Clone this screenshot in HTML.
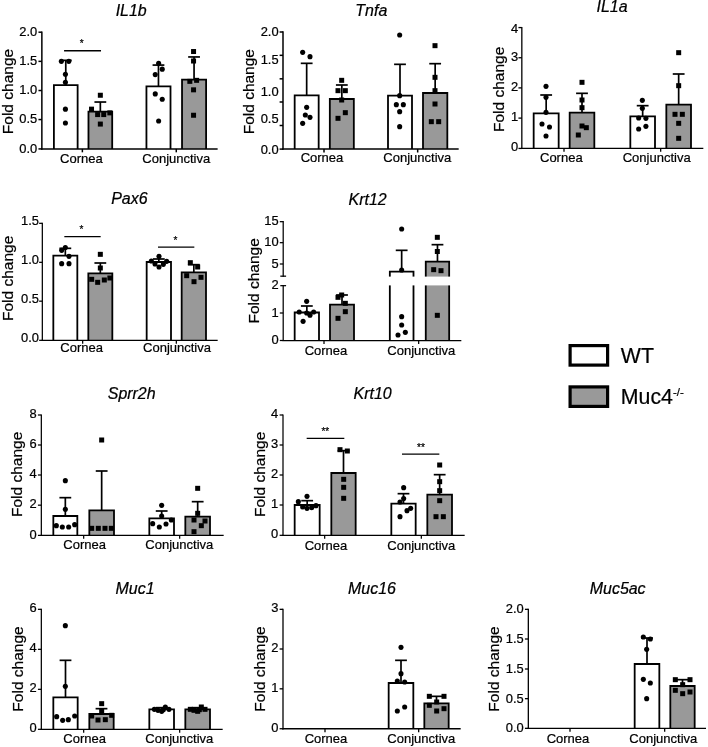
<!DOCTYPE html>
<html><head><meta charset="utf-8"><title>Figure</title>
<style>
html,body{margin:0;padding:0;background:#fff;}
svg{display:block;will-change:transform;}
svg text{font-family:"Liberation Sans",Arial,Helvetica,sans-serif;fill:#000000;stroke:#000000;stroke-width:0.22px;}
</style></head><body>
<svg width="708" height="747" viewBox="0 0 708 747">
<rect width="708" height="747" fill="#ffffff"/>
<line x1="65.77" y1="60.34" x2="65.77" y2="85.08" stroke="#000000" stroke-width="1.7"/>
<line x1="59.87" y1="60.34" x2="71.67" y2="60.34" stroke="#000000" stroke-width="1.7"/>
<rect x="53.9" y="85.08" width="23.73" height="63.84" fill="#ffffff"/>
<polyline points="53.9,148.92 53.9,85.08 77.63,85.08 77.63,148.92" fill="none" stroke="#000000" stroke-width="1.8" stroke-linejoin="miter"/>
<circle cx="61.36" cy="61.36" r="2.55" fill="#000000"/>
<circle cx="68.81" cy="61.36" r="2.55" fill="#000000"/>
<circle cx="65.42" cy="74.24" r="2.55" fill="#000000"/>
<circle cx="65.42" cy="82.37" r="2.55" fill="#000000"/>
<circle cx="65.42" cy="109.15" r="2.55" fill="#000000"/>
<circle cx="65.42" cy="123.05" r="2.55" fill="#000000"/>
<line x1="100.34" y1="102.03" x2="100.34" y2="111.53" stroke="#000000" stroke-width="1.7"/>
<line x1="94.44" y1="102.03" x2="106.24" y2="102.03" stroke="#000000" stroke-width="1.7"/>
<rect x="88.47" y="111.53" width="23.73" height="37.39" fill="#999999"/>
<polyline points="88.47,148.92 88.47,111.53 112.2,111.53 112.2,148.92" fill="none" stroke="#000000" stroke-width="1.8" stroke-linejoin="miter"/>
<rect x="97.84" y="92.75" width="5.0" height="5.0" fill="#000000"/>
<rect x="89.03" y="106.65" width="5.0" height="5.0" fill="#000000"/>
<rect x="95.13" y="112.08" width="5.0" height="5.0" fill="#000000"/>
<rect x="101.23" y="112.08" width="5.0" height="5.0" fill="#000000"/>
<rect x="107.33" y="110.38" width="5.0" height="5.0" fill="#000000"/>
<rect x="97.84" y="121.57" width="5.0" height="5.0" fill="#000000"/>
<line x1="158.47" y1="65.08" x2="158.47" y2="86.44" stroke="#000000" stroke-width="1.7"/>
<line x1="152.57" y1="65.08" x2="164.37" y2="65.08" stroke="#000000" stroke-width="1.7"/>
<rect x="146.44" y="86.44" width="24.07" height="62.48" fill="#ffffff"/>
<polyline points="146.44,148.92 146.44,86.44 170.51,86.44 170.51,148.92" fill="none" stroke="#000000" stroke-width="1.8" stroke-linejoin="miter"/>
<circle cx="158.64" cy="63.22" r="2.55" fill="#000000"/>
<circle cx="162.24" cy="69.15" r="2.55" fill="#000000"/>
<circle cx="155.25" cy="74.58" r="2.55" fill="#000000"/>
<circle cx="155.25" cy="93.9" r="2.55" fill="#000000"/>
<circle cx="162.24" cy="99.32" r="2.55" fill="#000000"/>
<circle cx="158.64" cy="121.02" r="2.55" fill="#000000"/>
<line x1="194.06" y1="56.95" x2="194.06" y2="79.66" stroke="#000000" stroke-width="1.7"/>
<line x1="188.16" y1="56.95" x2="199.96" y2="56.95" stroke="#000000" stroke-width="1.7"/>
<rect x="182.03" y="79.66" width="24.07" height="69.26" fill="#999999"/>
<polyline points="182.03,148.92 182.03,79.66 206.1,79.66 206.1,148.92" fill="none" stroke="#000000" stroke-width="1.8" stroke-linejoin="miter"/>
<rect x="191.06" y="49.03" width="5.0" height="5.0" fill="#000000"/>
<rect x="191.06" y="58.52" width="5.0" height="5.0" fill="#000000"/>
<rect x="194.11" y="77.84" width="5.0" height="5.0" fill="#000000"/>
<rect x="187.33" y="78.86" width="5.0" height="5.0" fill="#000000"/>
<rect x="191.06" y="87.33" width="5.0" height="5.0" fill="#000000"/>
<rect x="191.06" y="112.75" width="5.0" height="5.0" fill="#000000"/>
<line x1="41.86" y1="31.45" x2="41.86" y2="149.67" stroke="#000000" stroke-width="1.5"/>
<line x1="41.11" y1="148.92" x2="217.63" y2="148.92" stroke="#000000" stroke-width="1.5"/>
<line x1="38.46" y1="32.2" x2="41.86" y2="32.2" stroke="#000000" stroke-width="1.5"/>
<line x1="38.46" y1="61.36" x2="41.86" y2="61.36" stroke="#000000" stroke-width="1.5"/>
<line x1="38.46" y1="90.51" x2="41.86" y2="90.51" stroke="#000000" stroke-width="1.5"/>
<line x1="38.46" y1="119.56" x2="41.86" y2="119.56" stroke="#000000" stroke-width="1.5"/>
<line x1="38.46" y1="148.92" x2="41.86" y2="148.92" stroke="#000000" stroke-width="1.5"/>
<text x="37.26" y="35.9" font-size="12.9" text-anchor="end"  >2.0</text>
<text x="37.26" y="65.06" font-size="12.9" text-anchor="end"  >1.5</text>
<text x="37.26" y="94.21" font-size="12.9" text-anchor="end"  >1.0</text>
<text x="37.26" y="123.26" font-size="12.9" text-anchor="end"  >0.5</text>
<text x="37.26" y="152.62" font-size="12.9" text-anchor="end"  >0.0</text>
<line x1="82.37" y1="148.92" x2="82.37" y2="152.32" stroke="#000000" stroke-width="1.5"/>
<line x1="176.27" y1="148.92" x2="176.27" y2="152.32" stroke="#000000" stroke-width="1.5"/>
<text x="81.36" y="162.54" font-size="13" text-anchor="middle"  >Cornea</text>
<text x="176.27" y="162.54" font-size="13" text-anchor="middle"  >Conjunctiva</text>
<text transform="translate(131.19,16.44) scale(1.03,1.09)" font-size="15.5" text-anchor="middle" font-style="italic">IL1b</text>
<text transform="translate(12.54,91.53) rotate(-90)" font-size="15.5" text-anchor="middle">Fold change</text>
<line x1="64.07" y1="50.85" x2="101.02" y2="50.85" stroke="#000000" stroke-width="1.5"/>
<text x="81.69" y="47.12" font-size="10" text-anchor="middle"  >*</text>
<line x1="306.67" y1="63.33" x2="306.67" y2="95.33" stroke="#000000" stroke-width="1.7"/>
<line x1="300.77" y1="63.33" x2="312.57" y2="63.33" stroke="#000000" stroke-width="1.7"/>
<rect x="294.67" y="95.33" width="24.0" height="53.77" fill="#ffffff"/>
<polyline points="294.67,149.1 294.67,95.33 318.67,95.33 318.67,149.1" fill="none" stroke="#000000" stroke-width="1.8" stroke-linejoin="miter"/>
<circle cx="302.67" cy="52.33" r="2.55" fill="#000000"/>
<circle cx="310.0" cy="56.67" r="2.55" fill="#000000"/>
<circle cx="306.67" cy="107.33" r="2.55" fill="#000000"/>
<circle cx="305.33" cy="115.0" r="2.55" fill="#000000"/>
<circle cx="310.0" cy="117.33" r="2.55" fill="#000000"/>
<circle cx="302.67" cy="123.33" r="2.55" fill="#000000"/>
<line x1="341.83" y1="85.0" x2="341.83" y2="99.0" stroke="#000000" stroke-width="1.7"/>
<line x1="335.93" y1="85.0" x2="347.73" y2="85.0" stroke="#000000" stroke-width="1.7"/>
<rect x="329.83" y="99.0" width="24.0" height="50.1" fill="#999999"/>
<polyline points="329.83,149.1 329.83,99.0 353.83,99.0 353.83,149.1" fill="none" stroke="#000000" stroke-width="1.8" stroke-linejoin="miter"/>
<rect x="339.17" y="77.83" width="5.0" height="5.0" fill="#000000"/>
<rect x="335.5" y="88.17" width="5.0" height="5.0" fill="#000000"/>
<rect x="342.83" y="88.17" width="5.0" height="5.0" fill="#000000"/>
<rect x="339.17" y="97.5" width="5.0" height="5.0" fill="#000000"/>
<rect x="342.83" y="110.17" width="5.0" height="5.0" fill="#000000"/>
<rect x="335.5" y="115.83" width="5.0" height="5.0" fill="#000000"/>
<line x1="400.0" y1="64.33" x2="400.0" y2="95.67" stroke="#000000" stroke-width="1.7"/>
<line x1="394.1" y1="64.33" x2="405.9" y2="64.33" stroke="#000000" stroke-width="1.7"/>
<rect x="388.0" y="95.67" width="24.0" height="53.43" fill="#ffffff"/>
<polyline points="388.0,149.1 388.0,95.67 412.0,95.67 412.0,149.1" fill="none" stroke="#000000" stroke-width="1.8" stroke-linejoin="miter"/>
<circle cx="399.67" cy="35.0" r="2.55" fill="#000000"/>
<circle cx="399.67" cy="95.67" r="2.55" fill="#000000"/>
<circle cx="396.33" cy="104.67" r="2.55" fill="#000000"/>
<circle cx="403.33" cy="104.67" r="2.55" fill="#000000"/>
<circle cx="399.67" cy="111.67" r="2.55" fill="#000000"/>
<circle cx="399.67" cy="126.67" r="2.55" fill="#000000"/>
<line x1="435.16" y1="63.67" x2="435.16" y2="93.0" stroke="#000000" stroke-width="1.7"/>
<line x1="429.26" y1="63.67" x2="441.06" y2="63.67" stroke="#000000" stroke-width="1.7"/>
<rect x="423.0" y="93.0" width="24.33" height="56.1" fill="#999999"/>
<polyline points="423.0,149.1 423.0,93.0 447.33,93.0 447.33,149.1" fill="none" stroke="#000000" stroke-width="1.8" stroke-linejoin="miter"/>
<rect x="432.5" y="43.17" width="5.0" height="5.0" fill="#000000"/>
<rect x="432.5" y="74.83" width="5.0" height="5.0" fill="#000000"/>
<rect x="432.5" y="88.17" width="5.0" height="5.0" fill="#000000"/>
<rect x="432.5" y="101.5" width="5.0" height="5.0" fill="#000000"/>
<rect x="428.83" y="119.17" width="5.0" height="5.0" fill="#000000"/>
<rect x="436.17" y="119.17" width="5.0" height="5.0" fill="#000000"/>
<line x1="283.0" y1="31.25" x2="283.0" y2="149.85" stroke="#000000" stroke-width="1.5"/>
<line x1="282.25" y1="149.1" x2="458.67" y2="149.1" stroke="#000000" stroke-width="1.5"/>
<line x1="279.6" y1="32.0" x2="283.0" y2="32.0" stroke="#000000" stroke-width="1.5"/>
<line x1="279.6" y1="55.33" x2="283.0" y2="55.33" stroke="#000000" stroke-width="1.5"/>
<line x1="279.6" y1="78.83" x2="283.0" y2="78.83" stroke="#000000" stroke-width="1.5"/>
<line x1="279.6" y1="102.0" x2="283.0" y2="102.0" stroke="#000000" stroke-width="1.5"/>
<line x1="279.6" y1="125.5" x2="283.0" y2="125.5" stroke="#000000" stroke-width="1.5"/>
<line x1="279.6" y1="149.1" x2="283.0" y2="149.1" stroke="#000000" stroke-width="1.5"/>
<text x="278.6" y="36.17" font-size="12.9" text-anchor="end"  >2.0</text>
<text x="278.6" y="63.83" font-size="12.9" text-anchor="end"  >1.5</text>
<text x="278.6" y="95.83" font-size="12.9" text-anchor="end"  >1.0</text>
<text x="278.6" y="123.17" font-size="12.9" text-anchor="end"  >0.5</text>
<text x="278.6" y="153.6" font-size="12.9" text-anchor="end"  >0.0</text>
<line x1="324.0" y1="149.1" x2="324.0" y2="152.5" stroke="#000000" stroke-width="1.5"/>
<line x1="417.67" y1="149.1" x2="417.67" y2="152.5" stroke="#000000" stroke-width="1.5"/>
<text x="322.0" y="162.0" font-size="13" text-anchor="middle"  >Cornea</text>
<text x="417.33" y="162.0" font-size="13" text-anchor="middle"  >Conjunctiva</text>
<text transform="translate(371.33,16.33) scale(1.03,1.09)" font-size="15.5" text-anchor="middle" font-style="italic">Tnfa</text>
<text transform="translate(253.67,91.67) rotate(-90)" font-size="15.5" text-anchor="middle">Fold change</text>
<line x1="546.17" y1="95.0" x2="546.17" y2="113.33" stroke="#000000" stroke-width="1.7"/>
<line x1="540.27" y1="95.0" x2="552.07" y2="95.0" stroke="#000000" stroke-width="1.7"/>
<rect x="533.67" y="113.33" width="25.0" height="35.1" fill="#ffffff"/>
<polyline points="533.67,148.43 533.67,113.33 558.67,113.33 558.67,148.43" fill="none" stroke="#000000" stroke-width="1.8" stroke-linejoin="miter"/>
<circle cx="546.0" cy="86.33" r="2.55" fill="#000000"/>
<circle cx="546.0" cy="97.33" r="2.55" fill="#000000"/>
<circle cx="546.0" cy="112.33" r="2.55" fill="#000000"/>
<circle cx="542.0" cy="124.0" r="2.55" fill="#000000"/>
<circle cx="549.5" cy="127.0" r="2.55" fill="#000000"/>
<circle cx="546.0" cy="136.0" r="2.55" fill="#000000"/>
<line x1="582.0" y1="93.33" x2="582.0" y2="112.67" stroke="#000000" stroke-width="1.7"/>
<line x1="576.1" y1="93.33" x2="587.9" y2="93.33" stroke="#000000" stroke-width="1.7"/>
<rect x="569.67" y="112.67" width="24.66" height="35.76" fill="#999999"/>
<polyline points="569.67,148.43 569.67,112.67 594.33,112.67 594.33,148.43" fill="none" stroke="#000000" stroke-width="1.8" stroke-linejoin="miter"/>
<rect x="579.5" y="79.83" width="5.0" height="5.0" fill="#000000"/>
<rect x="579.5" y="97.5" width="5.0" height="5.0" fill="#000000"/>
<rect x="579.5" y="105.17" width="5.0" height="5.0" fill="#000000"/>
<rect x="579.5" y="123.5" width="5.0" height="5.0" fill="#000000"/>
<rect x="583.83" y="125.17" width="5.0" height="5.0" fill="#000000"/>
<rect x="575.83" y="132.5" width="5.0" height="5.0" fill="#000000"/>
<line x1="642.66" y1="105.67" x2="642.66" y2="116.33" stroke="#000000" stroke-width="1.7"/>
<line x1="636.76" y1="105.67" x2="648.56" y2="105.67" stroke="#000000" stroke-width="1.7"/>
<rect x="630.33" y="116.33" width="24.67" height="32.1" fill="#ffffff"/>
<polyline points="630.33,148.43 630.33,116.33 655.0,116.33 655.0,148.43" fill="none" stroke="#000000" stroke-width="1.8" stroke-linejoin="miter"/>
<circle cx="642.33" cy="100.33" r="2.55" fill="#000000"/>
<circle cx="642.33" cy="108.33" r="2.55" fill="#000000"/>
<circle cx="638.67" cy="118.0" r="2.55" fill="#000000"/>
<circle cx="645.9" cy="118.33" r="2.55" fill="#000000"/>
<circle cx="638.67" cy="129.0" r="2.55" fill="#000000"/>
<circle cx="645.9" cy="126.33" r="2.55" fill="#000000"/>
<line x1="678.66" y1="74.0" x2="678.66" y2="104.67" stroke="#000000" stroke-width="1.7"/>
<line x1="672.76" y1="74.0" x2="684.56" y2="74.0" stroke="#000000" stroke-width="1.7"/>
<rect x="666.33" y="104.67" width="24.67" height="43.76" fill="#999999"/>
<polyline points="666.33,148.43 666.33,104.67 691.0,104.67 691.0,148.43" fill="none" stroke="#000000" stroke-width="1.8" stroke-linejoin="miter"/>
<rect x="676.17" y="50.17" width="5.0" height="5.0" fill="#000000"/>
<rect x="676.17" y="83.17" width="5.0" height="5.0" fill="#000000"/>
<rect x="672.5" y="111.83" width="5.0" height="5.0" fill="#000000"/>
<rect x="679.83" y="111.83" width="5.0" height="5.0" fill="#000000"/>
<rect x="676.17" y="120.83" width="5.0" height="5.0" fill="#000000"/>
<rect x="676.17" y="135.83" width="5.0" height="5.0" fill="#000000"/>
<line x1="521.83" y1="26.92" x2="521.83" y2="149.08" stroke="#000000" stroke-width="1.3"/>
<line x1="521.18" y1="148.43" x2="703.33" y2="148.43" stroke="#000000" stroke-width="1.3"/>
<line x1="518.43" y1="27.57" x2="521.83" y2="27.57" stroke="#000000" stroke-width="1.3"/>
<line x1="518.43" y1="57.73" x2="521.83" y2="57.73" stroke="#000000" stroke-width="1.3"/>
<line x1="518.43" y1="87.9" x2="521.83" y2="87.9" stroke="#000000" stroke-width="1.3"/>
<line x1="518.43" y1="118.1" x2="521.83" y2="118.1" stroke="#000000" stroke-width="1.3"/>
<line x1="518.43" y1="148.43" x2="521.83" y2="148.43" stroke="#000000" stroke-width="1.3"/>
<text x="518.13" y="32.73" font-size="12.9" text-anchor="end"  >4</text>
<text x="518.13" y="61.2" font-size="12.9" text-anchor="end"  >3</text>
<text x="518.13" y="90.93" font-size="12.9" text-anchor="end"  >2</text>
<text x="518.13" y="120.67" font-size="12.9" text-anchor="end"  >1</text>
<text x="518.13" y="150.83" font-size="12.9" text-anchor="end"  >0</text>
<line x1="564.0" y1="148.43" x2="564.0" y2="151.83" stroke="#000000" stroke-width="1.3"/>
<line x1="660.67" y1="148.43" x2="660.67" y2="151.83" stroke="#000000" stroke-width="1.3"/>
<text x="561.33" y="161.5" font-size="13" text-anchor="middle"  >Cornea</text>
<text x="656.67" y="161.5" font-size="13" text-anchor="middle"  >Conjunctiva</text>
<text transform="translate(612.0,11.67) scale(1.03,1.09)" font-size="15.5" text-anchor="middle" font-style="italic">IL1a</text>
<text transform="translate(503.67,89.33) rotate(-90)" font-size="15.5" text-anchor="middle">Fold change</text>
<line x1="65.33" y1="248.33" x2="65.33" y2="255.67" stroke="#000000" stroke-width="1.7"/>
<line x1="59.43" y1="248.33" x2="71.23" y2="248.33" stroke="#000000" stroke-width="1.7"/>
<rect x="53.33" y="255.67" width="24.0" height="84.66" fill="#ffffff"/>
<polyline points="53.33,340.33 53.33,255.67 77.33,255.67 77.33,340.33" fill="none" stroke="#000000" stroke-width="1.8" stroke-linejoin="miter"/>
<circle cx="65.33" cy="247.5" r="2.55" fill="#000000"/>
<circle cx="61.67" cy="250.33" r="2.55" fill="#000000"/>
<circle cx="69.0" cy="256.33" r="2.55" fill="#000000"/>
<circle cx="61.67" cy="263.67" r="2.55" fill="#000000"/>
<circle cx="69.0" cy="263.67" r="2.55" fill="#000000"/>
<line x1="100.33" y1="263.0" x2="100.33" y2="273.33" stroke="#000000" stroke-width="1.7"/>
<line x1="94.43" y1="263.0" x2="106.23" y2="263.0" stroke="#000000" stroke-width="1.7"/>
<rect x="88.33" y="273.33" width="24.0" height="67.0" fill="#999999"/>
<polyline points="88.33,340.33 88.33,273.33 112.33,273.33 112.33,340.33" fill="none" stroke="#000000" stroke-width="1.8" stroke-linejoin="miter"/>
<rect x="97.83" y="251.83" width="5.0" height="5.0" fill="#000000"/>
<rect x="97.83" y="265.5" width="5.0" height="5.0" fill="#000000"/>
<rect x="107.37" y="275.5" width="5.0" height="5.0" fill="#000000"/>
<rect x="89.17" y="276.83" width="5.0" height="5.0" fill="#000000"/>
<rect x="101.83" y="277.5" width="5.0" height="5.0" fill="#000000"/>
<rect x="95.17" y="279.83" width="5.0" height="5.0" fill="#000000"/>
<line x1="158.83" y1="259.0" x2="158.83" y2="262.0" stroke="#000000" stroke-width="1.7"/>
<line x1="152.93" y1="259.0" x2="164.73" y2="259.0" stroke="#000000" stroke-width="1.7"/>
<rect x="146.67" y="262.0" width="24.33" height="78.33" fill="#ffffff"/>
<polyline points="146.67,340.33 146.67,262.0 171.0,262.0 171.0,340.33" fill="none" stroke="#000000" stroke-width="1.8" stroke-linejoin="miter"/>
<circle cx="159.0" cy="256.33" r="2.55" fill="#000000"/>
<circle cx="151.33" cy="261.0" r="2.55" fill="#000000"/>
<circle cx="166.67" cy="261.33" r="2.55" fill="#000000"/>
<circle cx="155.0" cy="264.0" r="2.55" fill="#000000"/>
<circle cx="163.33" cy="264.33" r="2.55" fill="#000000"/>
<circle cx="159.0" cy="267.0" r="2.55" fill="#000000"/>
<line x1="193.83" y1="264.67" x2="193.83" y2="272.33" stroke="#000000" stroke-width="1.7"/>
<line x1="187.93" y1="264.67" x2="199.73" y2="264.67" stroke="#000000" stroke-width="1.7"/>
<rect x="181.67" y="272.33" width="24.33" height="68.0" fill="#999999"/>
<polyline points="181.67,340.33 181.67,272.33 206.0,272.33 206.0,340.33" fill="none" stroke="#000000" stroke-width="1.8" stroke-linejoin="miter"/>
<rect x="187.83" y="260.17" width="5.0" height="5.0" fill="#000000"/>
<rect x="195.17" y="264.5" width="5.0" height="5.0" fill="#000000"/>
<rect x="184.17" y="273.17" width="5.0" height="5.0" fill="#000000"/>
<rect x="198.5" y="274.83" width="5.0" height="5.0" fill="#000000"/>
<rect x="191.5" y="279.17" width="5.0" height="5.0" fill="#000000"/>
<line x1="42.33" y1="222.71" x2="42.33" y2="340.95" stroke="#000000" stroke-width="1.25"/>
<line x1="41.7" y1="340.33" x2="217.67" y2="340.33" stroke="#000000" stroke-width="1.25"/>
<line x1="39.13" y1="223.33" x2="42.33" y2="223.33" stroke="#000000" stroke-width="1.25"/>
<line x1="39.13" y1="262.33" x2="42.33" y2="262.33" stroke="#000000" stroke-width="1.25"/>
<line x1="39.13" y1="301.17" x2="42.33" y2="301.17" stroke="#000000" stroke-width="1.25"/>
<line x1="39.13" y1="340.33" x2="42.33" y2="340.33" stroke="#000000" stroke-width="1.25"/>
<text x="38.98" y="224.93" font-size="12.9" text-anchor="end"  >1.5</text>
<text x="38.98" y="263.93" font-size="12.9" text-anchor="end"  >1.0</text>
<text x="38.98" y="302.77" font-size="12.9" text-anchor="end"  >0.5</text>
<text x="38.98" y="341.93" font-size="12.9" text-anchor="end"  >0.0</text>
<line x1="82.67" y1="340.33" x2="82.67" y2="343.73" stroke="#000000" stroke-width="1.25"/>
<line x1="176.33" y1="340.33" x2="176.33" y2="343.73" stroke="#000000" stroke-width="1.25"/>
<text x="81.67" y="351.67" font-size="13" text-anchor="middle"  >Cornea</text>
<text x="177.0" y="351.67" font-size="13" text-anchor="middle"  >Conjunctiva</text>
<text transform="translate(129.33,204.33) scale(1.03,1.09)" font-size="15.5" text-anchor="middle" font-style="italic">Pax6</text>
<text transform="translate(13.17,278.33) rotate(-90)" font-size="15.5" text-anchor="middle">Fold change</text>
<line x1="64.33" y1="236.67" x2="100.67" y2="236.67" stroke="#000000" stroke-width="1.25"/>
<text x="81.33" y="233.17" font-size="10" text-anchor="middle"  >*</text>
<line x1="158.0" y1="247.0" x2="194.33" y2="247.0" stroke="#000000" stroke-width="1.25"/>
<text x="175.33" y="243.5" font-size="10" text-anchor="middle"  >*</text>
<line x1="65.33" y1="497.67" x2="65.33" y2="516.0" stroke="#000000" stroke-width="1.7"/>
<line x1="59.43" y1="497.67" x2="71.23" y2="497.67" stroke="#000000" stroke-width="1.7"/>
<rect x="53.33" y="516.0" width="24.0" height="19.4" fill="#ffffff"/>
<polyline points="53.33,535.4 53.33,516.0 77.33,516.0 77.33,535.4" fill="none" stroke="#000000" stroke-width="1.8" stroke-linejoin="miter"/>
<circle cx="65.33" cy="480.67" r="2.55" fill="#000000"/>
<circle cx="65.33" cy="509.33" r="2.55" fill="#000000"/>
<circle cx="56.33" cy="525.67" r="2.55" fill="#000000"/>
<circle cx="62.33" cy="527.0" r="2.55" fill="#000000"/>
<circle cx="68.67" cy="527.0" r="2.55" fill="#000000"/>
<circle cx="74.67" cy="524.67" r="2.55" fill="#000000"/>
<line x1="101.66" y1="471.0" x2="101.66" y2="510.33" stroke="#000000" stroke-width="1.7"/>
<line x1="95.76" y1="471.0" x2="107.56" y2="471.0" stroke="#000000" stroke-width="1.7"/>
<rect x="89.33" y="510.33" width="24.67" height="25.07" fill="#999999"/>
<polyline points="89.33,535.4 89.33,510.33 114.0,510.33 114.0,535.4" fill="none" stroke="#000000" stroke-width="1.8" stroke-linejoin="miter"/>
<rect x="99.17" y="437.5" width="5.0" height="5.0" fill="#000000"/>
<rect x="89.17" y="525.83" width="5.0" height="5.0" fill="#000000"/>
<rect x="95.83" y="525.83" width="5.0" height="5.0" fill="#000000"/>
<rect x="102.5" y="525.83" width="5.0" height="5.0" fill="#000000"/>
<rect x="108.83" y="525.83" width="5.0" height="5.0" fill="#000000"/>
<line x1="161.67" y1="511.0" x2="161.67" y2="518.33" stroke="#000000" stroke-width="1.7"/>
<line x1="155.77" y1="511.0" x2="167.57" y2="511.0" stroke="#000000" stroke-width="1.7"/>
<rect x="149.33" y="518.33" width="24.67" height="17.07" fill="#ffffff"/>
<polyline points="149.33,535.4 149.33,518.33 174.0,518.33 174.0,535.4" fill="none" stroke="#000000" stroke-width="1.8" stroke-linejoin="miter"/>
<circle cx="161.67" cy="505.33" r="2.55" fill="#000000"/>
<circle cx="161.67" cy="516.0" r="2.55" fill="#000000"/>
<circle cx="171.33" cy="520.0" r="2.55" fill="#000000"/>
<circle cx="152.67" cy="523.67" r="2.55" fill="#000000"/>
<circle cx="166.0" cy="524.0" r="2.55" fill="#000000"/>
<circle cx="159.33" cy="527.0" r="2.55" fill="#000000"/>
<line x1="197.67" y1="501.67" x2="197.67" y2="516.67" stroke="#000000" stroke-width="1.7"/>
<line x1="191.77" y1="501.67" x2="203.57" y2="501.67" stroke="#000000" stroke-width="1.7"/>
<rect x="185.33" y="516.67" width="24.67" height="18.73" fill="#999999"/>
<polyline points="185.33,535.4 185.33,516.67 210.0,516.67 210.0,535.4" fill="none" stroke="#000000" stroke-width="1.8" stroke-linejoin="miter"/>
<rect x="195.17" y="485.83" width="5.0" height="5.0" fill="#000000"/>
<rect x="195.17" y="510.83" width="5.0" height="5.0" fill="#000000"/>
<rect x="191.5" y="517.5" width="5.0" height="5.0" fill="#000000"/>
<rect x="202.5" y="518.5" width="5.0" height="5.0" fill="#000000"/>
<rect x="198.83" y="523.17" width="5.0" height="5.0" fill="#000000"/>
<rect x="191.5" y="529.17" width="5.0" height="5.0" fill="#000000"/>
<line x1="41.33" y1="414.38" x2="41.33" y2="536.02" stroke="#000000" stroke-width="1.25"/>
<line x1="40.7" y1="535.4" x2="223.67" y2="535.4" stroke="#000000" stroke-width="1.25"/>
<line x1="37.93" y1="415.0" x2="41.33" y2="415.0" stroke="#000000" stroke-width="1.25"/>
<line x1="37.93" y1="445.0" x2="41.33" y2="445.0" stroke="#000000" stroke-width="1.25"/>
<line x1="37.93" y1="475.0" x2="41.33" y2="475.0" stroke="#000000" stroke-width="1.25"/>
<line x1="37.93" y1="505.17" x2="41.33" y2="505.17" stroke="#000000" stroke-width="1.25"/>
<line x1="37.93" y1="535.4" x2="41.33" y2="535.4" stroke="#000000" stroke-width="1.25"/>
<text x="36.73" y="418.3" font-size="12.9" text-anchor="end"  >8</text>
<text x="36.73" y="448.3" font-size="12.9" text-anchor="end"  >6</text>
<text x="36.73" y="478.3" font-size="12.9" text-anchor="end"  >4</text>
<text x="36.73" y="508.47" font-size="12.9" text-anchor="end"  >2</text>
<text x="36.73" y="538.7" font-size="12.9" text-anchor="end"  >0</text>
<line x1="83.67" y1="535.4" x2="83.67" y2="538.8" stroke="#000000" stroke-width="1.25"/>
<line x1="179.67" y1="535.4" x2="179.67" y2="538.8" stroke="#000000" stroke-width="1.25"/>
<text x="84.67" y="549.0" font-size="13" text-anchor="middle"  >Cornea</text>
<text x="179.33" y="549.0" font-size="13" text-anchor="middle"  >Conjunctiva</text>
<text transform="translate(131.67,399.0) scale(1.03,1.09)" font-size="15.5" text-anchor="middle" font-style="italic">Sprr2h</text>
<text transform="translate(22.33,474.33) rotate(-90)" font-size="15.5" text-anchor="middle">Fold change</text>
<line x1="307.17" y1="500.67" x2="307.17" y2="505.0" stroke="#000000" stroke-width="1.7"/>
<line x1="301.27" y1="500.67" x2="313.07" y2="500.67" stroke="#000000" stroke-width="1.7"/>
<rect x="294.67" y="505.0" width="25.0" height="30.33" fill="#ffffff"/>
<polyline points="294.67,535.33 294.67,505.0 319.67,505.0 319.67,535.33" fill="none" stroke="#000000" stroke-width="1.8" stroke-linejoin="miter"/>
<circle cx="307.0" cy="496.33" r="2.55" fill="#000000"/>
<circle cx="298.33" cy="501.67" r="2.55" fill="#000000"/>
<circle cx="316.0" cy="505.67" r="2.55" fill="#000000"/>
<circle cx="302.67" cy="507.0" r="2.55" fill="#000000"/>
<circle cx="311.67" cy="507.67" r="2.55" fill="#000000"/>
<circle cx="307.0" cy="508.33" r="2.55" fill="#000000"/>
<line x1="343.5" y1="450.67" x2="343.5" y2="473.0" stroke="#000000" stroke-width="1.7"/>
<line x1="337.6" y1="450.67" x2="349.4" y2="450.67" stroke="#000000" stroke-width="1.7"/>
<rect x="331.33" y="473.0" width="24.34" height="62.33" fill="#999999"/>
<polyline points="331.33,535.33 331.33,473.0 355.67,473.0 355.67,535.33" fill="none" stroke="#000000" stroke-width="1.8" stroke-linejoin="miter"/>
<rect x="337.5" y="447.17" width="5.0" height="5.0" fill="#000000"/>
<rect x="344.83" y="448.5" width="5.0" height="5.0" fill="#000000"/>
<rect x="341.17" y="476.83" width="5.0" height="5.0" fill="#000000"/>
<rect x="341.17" y="484.83" width="5.0" height="5.0" fill="#000000"/>
<rect x="341.17" y="495.83" width="5.0" height="5.0" fill="#000000"/>
<line x1="403.5" y1="493.67" x2="403.5" y2="503.67" stroke="#000000" stroke-width="1.7"/>
<line x1="397.6" y1="493.67" x2="409.4" y2="493.67" stroke="#000000" stroke-width="1.7"/>
<rect x="391.33" y="503.67" width="24.34" height="31.66" fill="#ffffff"/>
<polyline points="391.33,535.33 391.33,503.67 415.67,503.67 415.67,535.33" fill="none" stroke="#000000" stroke-width="1.8" stroke-linejoin="miter"/>
<circle cx="403.67" cy="487.67" r="2.55" fill="#000000"/>
<circle cx="403.67" cy="498.5" r="2.55" fill="#000000"/>
<circle cx="400.0" cy="502.0" r="2.55" fill="#000000"/>
<circle cx="410.67" cy="508.33" r="2.55" fill="#000000"/>
<circle cx="407.0" cy="510.67" r="2.55" fill="#000000"/>
<circle cx="400.0" cy="516.67" r="2.55" fill="#000000"/>
<line x1="439.66" y1="474.67" x2="439.66" y2="494.67" stroke="#000000" stroke-width="1.7"/>
<line x1="433.76" y1="474.67" x2="445.56" y2="474.67" stroke="#000000" stroke-width="1.7"/>
<rect x="427.33" y="494.67" width="24.67" height="40.66" fill="#999999"/>
<polyline points="427.33,535.33 427.33,494.67 452.0,494.67 452.0,535.33" fill="none" stroke="#000000" stroke-width="1.8" stroke-linejoin="miter"/>
<rect x="437.17" y="462.5" width="5.0" height="5.0" fill="#000000"/>
<rect x="437.17" y="479.17" width="5.0" height="5.0" fill="#000000"/>
<rect x="437.17" y="488.17" width="5.0" height="5.0" fill="#000000"/>
<rect x="437.17" y="498.17" width="5.0" height="5.0" fill="#000000"/>
<rect x="433.5" y="514.17" width="5.0" height="5.0" fill="#000000"/>
<rect x="440.83" y="514.17" width="5.0" height="5.0" fill="#000000"/>
<line x1="283.0" y1="414.38" x2="283.0" y2="535.96" stroke="#000000" stroke-width="1.25"/>
<line x1="282.38" y1="535.33" x2="464.67" y2="535.33" stroke="#000000" stroke-width="1.25"/>
<line x1="279.6" y1="415.0" x2="283.0" y2="415.0" stroke="#000000" stroke-width="1.25"/>
<line x1="279.6" y1="445.0" x2="283.0" y2="445.0" stroke="#000000" stroke-width="1.25"/>
<line x1="279.6" y1="475.0" x2="283.0" y2="475.0" stroke="#000000" stroke-width="1.25"/>
<line x1="279.6" y1="505.0" x2="283.0" y2="505.0" stroke="#000000" stroke-width="1.25"/>
<line x1="279.6" y1="535.33" x2="283.0" y2="535.33" stroke="#000000" stroke-width="1.25"/>
<text x="278.2" y="417.8" font-size="12.9" text-anchor="end"  >4</text>
<text x="278.2" y="447.8" font-size="12.9" text-anchor="end"  >3</text>
<text x="278.2" y="477.8" font-size="12.9" text-anchor="end"  >2</text>
<text x="278.2" y="507.8" font-size="12.9" text-anchor="end"  >1</text>
<text x="278.2" y="538.13" font-size="12.9" text-anchor="end"  >0</text>
<line x1="324.67" y1="535.33" x2="324.67" y2="538.73" stroke="#000000" stroke-width="1.25"/>
<line x1="421.33" y1="535.33" x2="421.33" y2="538.73" stroke="#000000" stroke-width="1.25"/>
<text x="326.0" y="549.5" font-size="13" text-anchor="middle"  >Cornea</text>
<text x="421.33" y="549.5" font-size="13" text-anchor="middle"  >Conjunctiva</text>
<text transform="translate(372.67,399.0) scale(1.03,1.09)" font-size="15.5" text-anchor="middle" font-style="italic">Krt10</text>
<text transform="translate(265.23,474.33) rotate(-90)" font-size="15.5" text-anchor="middle">Fold change</text>
<line x1="306.67" y1="438.33" x2="344.33" y2="438.33" stroke="#000000" stroke-width="1.25"/>
<text x="325.33" y="435.0" font-size="10" text-anchor="middle"  >**</text>
<line x1="402.0" y1="454.0" x2="439.33" y2="454.0" stroke="#000000" stroke-width="1.25"/>
<text x="421.0" y="450.67" font-size="10" text-anchor="middle"  >**</text>
<line x1="65.5" y1="660.33" x2="65.5" y2="697.33" stroke="#000000" stroke-width="1.7"/>
<line x1="59.6" y1="660.33" x2="71.4" y2="660.33" stroke="#000000" stroke-width="1.7"/>
<rect x="53.33" y="697.33" width="24.34" height="32.0" fill="#ffffff"/>
<polyline points="53.33,729.33 53.33,697.33 77.67,697.33 77.67,729.33" fill="none" stroke="#000000" stroke-width="1.8" stroke-linejoin="miter"/>
<circle cx="65.33" cy="625.67" r="2.55" fill="#000000"/>
<circle cx="65.33" cy="686.33" r="2.55" fill="#000000"/>
<circle cx="56.67" cy="716.67" r="2.55" fill="#000000"/>
<circle cx="62.67" cy="720.33" r="2.55" fill="#000000"/>
<circle cx="68.33" cy="719.67" r="2.55" fill="#000000"/>
<circle cx="74.67" cy="716.0" r="2.55" fill="#000000"/>
<line x1="101.5" y1="708.67" x2="101.5" y2="714.0" stroke="#000000" stroke-width="1.7"/>
<line x1="95.6" y1="708.67" x2="107.4" y2="708.67" stroke="#000000" stroke-width="1.7"/>
<rect x="89.33" y="714.0" width="24.34" height="15.33" fill="#999999"/>
<polyline points="89.33,729.33 89.33,714.0 113.67,714.0 113.67,729.33" fill="none" stroke="#000000" stroke-width="1.8" stroke-linejoin="miter"/>
<rect x="99.17" y="701.17" width="5.0" height="5.0" fill="#000000"/>
<rect x="99.17" y="709.0" width="5.0" height="5.0" fill="#000000"/>
<rect x="89.17" y="713.5" width="5.0" height="5.0" fill="#000000"/>
<rect x="109.17" y="712.83" width="5.0" height="5.0" fill="#000000"/>
<rect x="95.5" y="717.5" width="5.0" height="5.0" fill="#000000"/>
<rect x="102.83" y="717.17" width="5.0" height="5.0" fill="#000000"/>
<line x1="161.67" y1="707.67" x2="161.67" y2="709.33" stroke="#000000" stroke-width="1.7"/>
<line x1="155.77" y1="707.67" x2="167.57" y2="707.67" stroke="#000000" stroke-width="1.7"/>
<rect x="149.33" y="709.33" width="24.67" height="20.0" fill="#ffffff"/>
<polyline points="149.33,729.33 149.33,709.33 174.0,709.33 174.0,729.33" fill="none" stroke="#000000" stroke-width="1.8" stroke-linejoin="miter"/>
<circle cx="165.33" cy="707.0" r="2.55" fill="#000000"/>
<circle cx="154.33" cy="709.33" r="2.55" fill="#000000"/>
<circle cx="169.0" cy="709.33" r="2.55" fill="#000000"/>
<circle cx="158.0" cy="710.33" r="2.55" fill="#000000"/>
<circle cx="161.67" cy="711.33" r="2.55" fill="#000000"/>
<circle cx="163.33" cy="709.67" r="2.55" fill="#000000"/>
<line x1="197.67" y1="707.67" x2="197.67" y2="709.33" stroke="#000000" stroke-width="1.7"/>
<line x1="191.77" y1="707.67" x2="203.57" y2="707.67" stroke="#000000" stroke-width="1.7"/>
<rect x="185.33" y="709.33" width="24.67" height="20.0" fill="#999999"/>
<polyline points="185.33,729.33 185.33,709.33 210.0,709.33 210.0,729.33" fill="none" stroke="#000000" stroke-width="1.8" stroke-linejoin="miter"/>
<rect x="198.83" y="704.5" width="5.0" height="5.0" fill="#000000"/>
<rect x="187.83" y="706.83" width="5.0" height="5.0" fill="#000000"/>
<rect x="202.5" y="706.83" width="5.0" height="5.0" fill="#000000"/>
<rect x="191.5" y="707.83" width="5.0" height="5.0" fill="#000000"/>
<rect x="195.17" y="708.83" width="5.0" height="5.0" fill="#000000"/>
<rect x="196.83" y="707.17" width="5.0" height="5.0" fill="#000000"/>
<line x1="41.33" y1="608.71" x2="41.33" y2="729.96" stroke="#000000" stroke-width="1.25"/>
<line x1="40.7" y1="729.33" x2="222.67" y2="729.33" stroke="#000000" stroke-width="1.25"/>
<line x1="37.93" y1="609.33" x2="41.33" y2="609.33" stroke="#000000" stroke-width="1.25"/>
<line x1="37.93" y1="649.33" x2="41.33" y2="649.33" stroke="#000000" stroke-width="1.25"/>
<line x1="37.93" y1="689.33" x2="41.33" y2="689.33" stroke="#000000" stroke-width="1.25"/>
<line x1="37.93" y1="729.33" x2="41.33" y2="729.33" stroke="#000000" stroke-width="1.25"/>
<text x="36.73" y="612.33" font-size="12.9" text-anchor="end"  >6</text>
<text x="36.73" y="652.33" font-size="12.9" text-anchor="end"  >4</text>
<text x="36.73" y="692.33" font-size="12.9" text-anchor="end"  >2</text>
<text x="36.73" y="732.33" font-size="12.9" text-anchor="end"  >0</text>
<line x1="83.67" y1="729.33" x2="83.67" y2="732.73" stroke="#000000" stroke-width="1.25"/>
<line x1="179.67" y1="729.33" x2="179.67" y2="732.73" stroke="#000000" stroke-width="1.25"/>
<text x="84.67" y="742.67" font-size="13" text-anchor="middle"  >Cornea</text>
<text x="179.33" y="742.67" font-size="13" text-anchor="middle"  >Conjunctiva</text>
<text transform="translate(135.0,594.17) scale(1.03,1.09)" font-size="15.5" text-anchor="middle" font-style="italic">Muc1</text>
<text transform="translate(23.33,669.0) rotate(-90)" font-size="15.5" text-anchor="middle">Fold change</text>
<line x1="401.0" y1="660.33" x2="401.0" y2="683.0" stroke="#000000" stroke-width="1.7"/>
<line x1="395.1" y1="660.33" x2="406.9" y2="660.33" stroke="#000000" stroke-width="1.7"/>
<rect x="388.67" y="683.0" width="24.66" height="45.73" fill="#ffffff"/>
<polyline points="388.67,728.73 388.67,683.0 413.33,683.0 413.33,728.73" fill="none" stroke="#000000" stroke-width="1.8" stroke-linejoin="miter"/>
<circle cx="401.0" cy="647.33" r="2.55" fill="#000000"/>
<circle cx="401.0" cy="673.67" r="2.55" fill="#000000"/>
<circle cx="397.33" cy="681.0" r="2.55" fill="#000000"/>
<circle cx="404.67" cy="682.0" r="2.55" fill="#000000"/>
<circle cx="404.67" cy="707.0" r="2.55" fill="#000000"/>
<circle cx="397.33" cy="711.0" r="2.55" fill="#000000"/>
<line x1="436.5" y1="696.33" x2="436.5" y2="703.33" stroke="#000000" stroke-width="1.7"/>
<line x1="430.6" y1="696.33" x2="442.4" y2="696.33" stroke="#000000" stroke-width="1.7"/>
<rect x="424.33" y="703.33" width="24.34" height="25.4" fill="#999999"/>
<polyline points="424.33,728.73 424.33,703.33 448.67,703.33 448.67,728.73" fill="none" stroke="#000000" stroke-width="1.8" stroke-linejoin="miter"/>
<rect x="426.83" y="693.83" width="5.0" height="5.0" fill="#000000"/>
<rect x="441.5" y="693.83" width="5.0" height="5.0" fill="#000000"/>
<rect x="434.17" y="699.5" width="5.0" height="5.0" fill="#000000"/>
<rect x="426.83" y="702.83" width="5.0" height="5.0" fill="#000000"/>
<rect x="441.5" y="706.17" width="5.0" height="5.0" fill="#000000"/>
<rect x="434.17" y="708.5" width="5.0" height="5.0" fill="#000000"/>
<line x1="283.0" y1="608.68" x2="283.0" y2="729.38" stroke="#000000" stroke-width="1.3"/>
<line x1="282.35" y1="728.73" x2="460.67" y2="728.73" stroke="#000000" stroke-width="1.3"/>
<line x1="279.6" y1="609.33" x2="283.0" y2="609.33" stroke="#000000" stroke-width="1.3"/>
<line x1="279.6" y1="649.0" x2="283.0" y2="649.0" stroke="#000000" stroke-width="1.3"/>
<line x1="279.6" y1="688.83" x2="283.0" y2="688.83" stroke="#000000" stroke-width="1.3"/>
<line x1="279.6" y1="728.73" x2="283.0" y2="728.73" stroke="#000000" stroke-width="1.3"/>
<text x="278.4" y="612.43" font-size="12.9" text-anchor="end"  >3</text>
<text x="278.4" y="652.1" font-size="12.9" text-anchor="end"  >2</text>
<text x="278.4" y="691.93" font-size="12.9" text-anchor="end"  >1</text>
<text x="278.4" y="731.83" font-size="12.9" text-anchor="end"  >0</text>
<line x1="325.0" y1="728.73" x2="325.0" y2="732.13" stroke="#000000" stroke-width="1.3"/>
<line x1="418.67" y1="728.73" x2="418.67" y2="732.13" stroke="#000000" stroke-width="1.3"/>
<text x="326.0" y="742.67" font-size="13" text-anchor="middle"  >Cornea</text>
<text x="421.33" y="742.67" font-size="13" text-anchor="middle"  >Conjunctiva</text>
<text transform="translate(372.0,594.17) scale(1.03,1.09)" font-size="15.5" text-anchor="middle" font-style="italic">Muc16</text>
<text transform="translate(265.23,669.0) rotate(-90)" font-size="15.5" text-anchor="middle">Fold change</text>
<line x1="647.0" y1="638.0" x2="647.0" y2="664.0" stroke="#000000" stroke-width="1.7"/>
<line x1="641.1" y1="638.0" x2="652.9" y2="638.0" stroke="#000000" stroke-width="1.7"/>
<rect x="634.67" y="664.0" width="24.66" height="64.33" fill="#ffffff"/>
<polyline points="634.67,728.33 634.67,664.0 659.33,664.0 659.33,728.33" fill="none" stroke="#000000" stroke-width="1.8" stroke-linejoin="miter"/>
<circle cx="643.33" cy="637.0" r="2.55" fill="#000000"/>
<circle cx="650.33" cy="639.0" r="2.55" fill="#000000"/>
<circle cx="646.67" cy="649.33" r="2.55" fill="#000000"/>
<circle cx="643.33" cy="679.33" r="2.55" fill="#000000"/>
<circle cx="650.33" cy="683.0" r="2.55" fill="#000000"/>
<circle cx="646.67" cy="698.67" r="2.55" fill="#000000"/>
<line x1="682.5" y1="679.67" x2="682.5" y2="686.0" stroke="#000000" stroke-width="1.7"/>
<line x1="676.6" y1="679.67" x2="688.4" y2="679.67" stroke="#000000" stroke-width="1.7"/>
<rect x="670.33" y="686.0" width="24.34" height="42.33" fill="#999999"/>
<polyline points="670.33,728.33 670.33,686.0 694.67,686.0 694.67,728.33" fill="none" stroke="#000000" stroke-width="1.8" stroke-linejoin="miter"/>
<rect x="672.83" y="677.17" width="5.0" height="5.0" fill="#000000"/>
<rect x="687.5" y="677.17" width="5.0" height="5.0" fill="#000000"/>
<rect x="680.17" y="682.17" width="5.0" height="5.0" fill="#000000"/>
<rect x="672.83" y="687.83" width="5.0" height="5.0" fill="#000000"/>
<rect x="687.5" y="689.5" width="5.0" height="5.0" fill="#000000"/>
<rect x="680.17" y="691.17" width="5.0" height="5.0" fill="#000000"/>
<line x1="528.33" y1="608.68" x2="528.33" y2="728.98" stroke="#000000" stroke-width="1.3"/>
<line x1="527.68" y1="728.33" x2="706.0" y2="728.33" stroke="#000000" stroke-width="1.3"/>
<line x1="524.93" y1="609.33" x2="528.33" y2="609.33" stroke="#000000" stroke-width="1.3"/>
<line x1="524.93" y1="639.0" x2="528.33" y2="639.0" stroke="#000000" stroke-width="1.3"/>
<line x1="524.93" y1="669.0" x2="528.33" y2="669.0" stroke="#000000" stroke-width="1.3"/>
<line x1="524.93" y1="698.67" x2="528.33" y2="698.67" stroke="#000000" stroke-width="1.3"/>
<line x1="524.93" y1="728.33" x2="528.33" y2="728.33" stroke="#000000" stroke-width="1.3"/>
<text x="523.73" y="613.43" font-size="12.9" text-anchor="end"  >2.0</text>
<text x="523.73" y="643.1" font-size="12.9" text-anchor="end"  >1.5</text>
<text x="523.73" y="673.1" font-size="12.9" text-anchor="end"  >1.5</text>
<text x="523.73" y="702.77" font-size="12.9" text-anchor="end"  >0.5</text>
<text x="523.73" y="732.43" font-size="12.9" text-anchor="end"  >0.0</text>
<line x1="570.0" y1="728.33" x2="570.0" y2="731.73" stroke="#000000" stroke-width="1.3"/>
<line x1="664.67" y1="728.33" x2="664.67" y2="731.73" stroke="#000000" stroke-width="1.3"/>
<text x="568.0" y="742.67" font-size="13" text-anchor="middle"  >Cornea</text>
<text x="663.33" y="742.67" font-size="13" text-anchor="middle"  >Conjunctiva</text>
<text transform="translate(617.67,594.17) scale(1.03,1.09)" font-size="15.5" text-anchor="middle" font-style="italic">Muc5ac</text>
<text transform="translate(499.33,669.0) rotate(-90)" font-size="15.5" text-anchor="middle">Fold change</text>
<line x1="306.84" y1="306.0" x2="306.84" y2="312.5" stroke="#000000" stroke-width="1.7"/>
<line x1="300.94" y1="306.0" x2="312.74" y2="306.0" stroke="#000000" stroke-width="1.7"/>
<rect x="294.67" y="312.5" width="24.33" height="28.0" fill="#ffffff"/>
<polyline points="294.67,340.5 294.67,312.5 319.0,312.5 319.0,340.5" fill="none" stroke="#000000" stroke-width="1.8" stroke-linejoin="miter"/>
<circle cx="306.67" cy="301.33" r="2.55" fill="#000000"/>
<circle cx="299.2" cy="312.0" r="2.55" fill="#000000"/>
<circle cx="313.67" cy="312.0" r="2.55" fill="#000000"/>
<circle cx="306.67" cy="313.0" r="2.55" fill="#000000"/>
<circle cx="310.0" cy="315.2" r="2.55" fill="#000000"/>
<circle cx="303.1" cy="321.33" r="2.55" fill="#000000"/>
<line x1="342.0" y1="295.0" x2="342.0" y2="304.67" stroke="#000000" stroke-width="1.7"/>
<line x1="336.1" y1="295.0" x2="347.9" y2="295.0" stroke="#000000" stroke-width="1.7"/>
<rect x="330.0" y="304.67" width="24.0" height="35.83" fill="#999999"/>
<polyline points="330.0,340.5 330.0,304.67 354.0,304.67 354.0,340.5" fill="none" stroke="#000000" stroke-width="1.8" stroke-linejoin="miter"/>
<rect x="339.17" y="292.5" width="5.0" height="5.0" fill="#000000"/>
<rect x="335.5" y="294.83" width="5.0" height="5.0" fill="#000000"/>
<rect x="342.83" y="300.83" width="5.0" height="5.0" fill="#000000"/>
<rect x="342.83" y="309.17" width="5.0" height="5.0" fill="#000000"/>
<rect x="335.5" y="315.83" width="5.0" height="5.0" fill="#000000"/>
<line x1="401.66" y1="250.33" x2="401.66" y2="271.67" stroke="#000000" stroke-width="1.7"/>
<line x1="395.76" y1="250.33" x2="407.56" y2="250.33" stroke="#000000" stroke-width="1.7"/>
<rect x="389.83" y="271.67" width="23.67" height="68.83" fill="#ffffff"/>
<polyline points="389.83,340.5 389.83,271.67 413.5,271.67 413.5,340.5" fill="none" stroke="#000000" stroke-width="1.8" stroke-linejoin="miter"/>
<line x1="437.47" y1="244.67" x2="437.47" y2="261.67" stroke="#000000" stroke-width="1.7"/>
<line x1="431.57" y1="244.67" x2="443.37" y2="244.67" stroke="#000000" stroke-width="1.7"/>
<rect x="425.77" y="261.67" width="23.4" height="78.83" fill="#999999"/>
<polyline points="425.77,340.5 425.77,261.67 449.17,261.67 449.17,340.5" fill="none" stroke="#000000" stroke-width="1.8" stroke-linejoin="miter"/>
<rect x="382.67" y="276.6" width="73.33" height="8.8" fill="#ffffff"/>
<circle cx="401.67" cy="229.0" r="2.55" fill="#000000"/>
<circle cx="401.67" cy="270.0" r="2.55" fill="#000000"/>
<circle cx="401.67" cy="316.67" r="2.55" fill="#000000"/>
<circle cx="401.67" cy="325.0" r="2.55" fill="#000000"/>
<circle cx="405.33" cy="332.33" r="2.55" fill="#000000"/>
<circle cx="398.0" cy="335.0" r="2.55" fill="#000000"/>
<rect x="434.83" y="234.83" width="5.0" height="5.0" fill="#000000"/>
<rect x="434.83" y="249.0" width="5.0" height="5.0" fill="#000000"/>
<rect x="431.17" y="267.17" width="5.0" height="5.0" fill="#000000"/>
<rect x="438.5" y="268.17" width="5.0" height="5.0" fill="#000000"/>
<rect x="434.83" y="312.83" width="5.0" height="5.0" fill="#000000"/>
<line x1="283.2" y1="285.05" x2="283.2" y2="341.12" stroke="#000000" stroke-width="1.25"/>
<line x1="283.2" y1="221.04" x2="283.2" y2="276.8" stroke="#000000" stroke-width="1.25"/>
<line x1="282.57" y1="340.5" x2="461.33" y2="340.5" stroke="#000000" stroke-width="1.25"/>
<line x1="279.8" y1="221.67" x2="283.2" y2="221.67" stroke="#000000" stroke-width="1.25"/>
<text x="278.6" y="225.17" font-size="12.9" text-anchor="end"  >15</text>
<line x1="279.8" y1="242.67" x2="283.2" y2="242.67" stroke="#000000" stroke-width="1.25"/>
<text x="278.6" y="246.17" font-size="12.9" text-anchor="end"  >10</text>
<line x1="279.8" y1="264.0" x2="283.2" y2="264.0" stroke="#000000" stroke-width="1.25"/>
<text x="278.6" y="267.5" font-size="12.9" text-anchor="end"  >5</text>
<text x="278.6" y="289.17" font-size="12.9" text-anchor="end"  >2</text>
<line x1="279.8" y1="313.0" x2="283.2" y2="313.0" stroke="#000000" stroke-width="1.25"/>
<text x="278.6" y="316.5" font-size="12.9" text-anchor="end"  >1</text>
<line x1="279.8" y1="340.5" x2="283.2" y2="340.5" stroke="#000000" stroke-width="1.25"/>
<text x="278.6" y="344.0" font-size="12.9" text-anchor="end"  >0</text>
<line x1="280.3" y1="276.17" x2="286.1" y2="276.17" stroke="#000000" stroke-width="1.25"/>
<line x1="280.3" y1="285.67" x2="286.1" y2="285.67" stroke="#000000" stroke-width="1.25"/>
<line x1="324.0" y1="340.5" x2="324.0" y2="343.9" stroke="#000000" stroke-width="1.25"/>
<line x1="418.67" y1="340.5" x2="418.67" y2="343.9" stroke="#000000" stroke-width="1.25"/>
<text x="326.0" y="355.0" font-size="13" text-anchor="middle"  >Cornea</text>
<text x="421.33" y="355.0" font-size="13" text-anchor="middle"  >Conjunctiva</text>
<text transform="translate(367.67,205.0) scale(1.03,1.09)" font-size="15.5" text-anchor="middle" font-style="italic">Krt12</text>
<text transform="translate(258.5,280.83) rotate(-90)" font-size="15.5" text-anchor="middle">Fold change</text>
<rect x="570.1" y="345.6" width="37.5" height="19.5" fill="#fff" stroke="#000000" stroke-width="3.2"/>
<rect x="570.1" y="386.9" width="37.5" height="19.5" fill="#999999" stroke="#000000" stroke-width="3.2"/>
<text x="620.8" y="362.8" font-size="21.3">WT</text>
<text x="620.8" y="403.8" font-size="21.3">Muc4<tspan font-size="11.5" dy="-7.6">-/-</tspan></text>
</svg>
</body></html>
